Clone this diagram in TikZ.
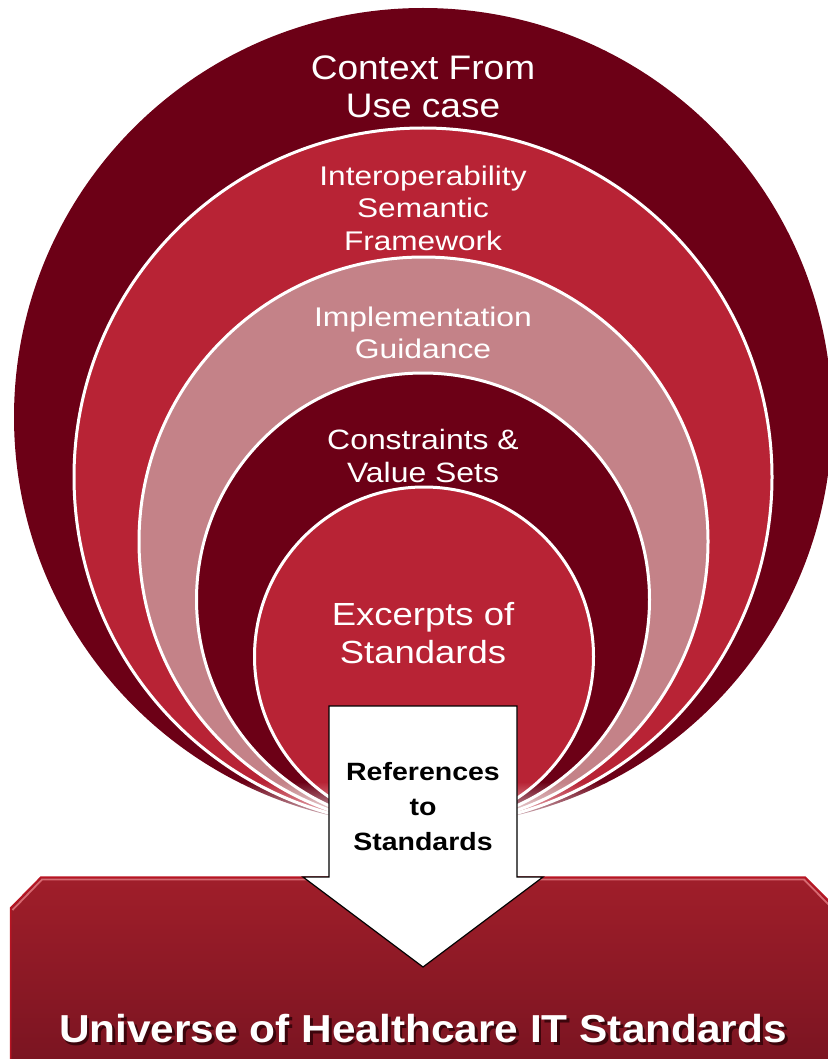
\documentclass[tikz,border=0pt]{standalone}
\usepackage{fontspec}
\usepackage{graphicx}
\setmainfont{Liberation Sans}
\usetikzlibrary{fadings}
\definecolor{ringdark}{RGB}{108,0,22}
\definecolor{ringred}{RGB}{184,35,53}
\definecolor{ringpink}{RGB}{196,130,136}
\definecolor{boxtop}{RGB}{160,30,42}
\definecolor{boxbot}{RGB}{122,20,33}
\definecolor{boxedge}{RGB}{185,20,34}
\definecolor{boxhl}{RGB}{216,106,114}
\definecolor{txtshadow}{RGB}{60,5,12}
\tikzfading[name=fadedown, top color=transparent!100, bottom color=transparent!0]
\newcommand{\ringtext}[2]{\scalebox{#1}[1]{\begin{tabular}{@{}c@{}}#2\end{tabular}}}
\newcommand{\shadowtext}[1]{\makebox[0pt][l]{\hspace{2.5pt}\raisebox{-3pt}{\textcolor{txtshadow}{#1}}}#1}
\tikzset{
  ring/.style={circle, inner sep=0pt, outer sep=0pt, draw=white, line width=3pt},
  ringlabel/.style={anchor=north, inner sep=0pt, text=white},
}
\begin{document}
\begin{tikzpicture}[x=1pt,y=-1pt]
\useasboundingbox (0,0) rectangle (827,1059);
% nested rings, tangent at the bottom
\node[ring, draw=none, fill=ringdark, minimum size=818pt] (r1) at (423,417) {};
\node[ring, fill=ringred,  minimum size=698pt] (r2) at (423,477) {};
\node[ring, fill=ringpink, minimum size=569pt] (r3) at (423.5,541.5) {};
\node[ring, fill=ringdark, minimum size=453pt] (r4) at (423,599.5) {};
\node[ring, fill=ringred,  minimum size=339pt] (r5) at (424,656.5) {};
% soft fade at the bottom
\fill[white, path fading=fadedown] (120,782) rectangle (730,832);
% base box
\shade[top color=boxtop, bottom color=boxbot]
  (10.5,1065) -- (10.5,908) -- (41,877) -- (805,877) -- (836,908) -- (836,1065) -- cycle;
\draw[boxedge, line width=1.5pt] (10.5,1065) -- (10.5,908) -- (41,877) -- (805,877) -- (836,908);
\draw[boxhl, line width=1.8pt] (12.5,910) -- (42,879.5) -- (804,879.5) -- (834,910);
% block arrow
\draw[fill=white, draw=black, line width=1.2pt, line join=miter]
  (329,706) -- (517,706) -- (517,877) -- (543,877) -- (423,967) -- (303,877) -- (329,877) -- cycle;
% labels
\node[ringlabel, font=\fontsize{34}{37.5}\selectfont] (t1) at (423,53.2)
  {\ringtext{1.09}{Context From\\Use case}};
\node[ringlabel, font=\fontsize{27}{32.5}\selectfont] (t2) at (423,162.2)
  {\ringtext{1.17}{Interoperability\\Semantic\\Framework}};
\node[ringlabel, font=\fontsize{27}{31.7}\selectfont] (t3) at (423,304.5)
  {\ringtext{1.18}{Implementation\\Guidance}};
\node[ringlabel, font=\fontsize{28}{33}\selectfont] (t4) at (423,425.9)
  {\ringtext{1.14}{Constraints \&\\Value Sets}};
\node[ringlabel, font=\fontsize{32}{38}\selectfont] (t5) at (423,598.4)
  {\ringtext{1.14}{Excerpts of\\Standards}};
\node[ringlabel, text=black, font=\bfseries\fontsize{25}{35}\selectfont] (t6) at (423,755.5)
  {\ringtext{1.14}{References\\to\\Standards}};
\node[anchor=base, inner sep=0pt, text=white, font=\bfseries\fontsize{39}{45}\selectfont] (univ) at (423,1042)
  {\scalebox{1.087}[1]{\shadowtext{Universe of Healthcare IT Standards}}};
\end{tikzpicture}
\end{document}
